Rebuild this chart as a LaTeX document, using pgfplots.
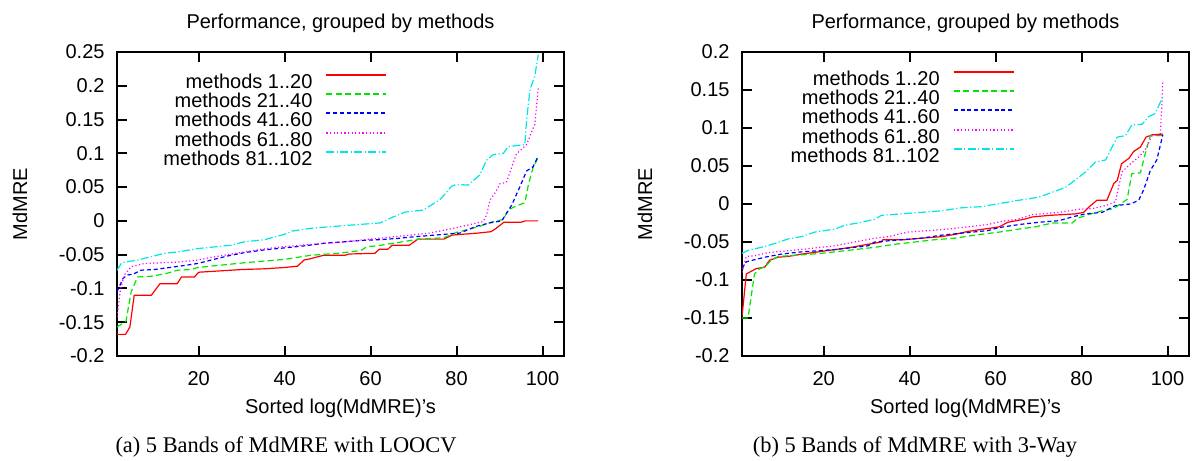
\documentclass[border=0pt]{standalone}
\usepackage{fontspec}
\setmainfont{Liberation Sans}
\newfontfamily\capfont{Liberation Serif}
\usepackage{pgfplots}
\pgfplotsset{compat=1.18}

\definecolor{gpred}{RGB}{255,0,0}
\definecolor{gpgreen}{RGB}{0,230,0}
\definecolor{gpblue}{RGB}{0,0,255}
\definecolor{gpmagenta}{RGB}{255,0,255}
\definecolor{gpcyan}{RGB}{0,230,230}

\tikzset{
  s1/.style={draw=gpred, solid, line width=0.6pt},
  s2/.style={draw=gpgreen, line width=0.6pt, dash pattern=on 3pt off 1.7pt},
  s3/.style={draw=gpblue, line width=0.6pt, dash pattern=on 2pt off 1.4pt},
  s4/.style={draw=gpmagenta, line width=0.6pt, dash pattern=on 0.6pt off 1.2pt},
  s5/.style={draw=gpcyan, line width=0.6pt, dash pattern=on 4pt off 1.2pt on 0.6pt off 1.2pt},
}

\pgfplotsset{
  legimg/.style={legend image code/.code={\draw[#1, line width=1pt] (0pt,3.2pt) -- (30pt,3.2pt);}},
  mdstyle/.style={
    scale only axis, width=223.5pt, height=152pt,
    xmin=1, xmax=105, ymin=-0.2,
    xtick={20,40,60,80,100},
    tick align=inside, major tick length=5pt,
    axis line style={line width=1pt},
    every tick/.style={black, line width=1pt},
    font=\fontsize{10}{12}\selectfont,
    /pgf/number format/assume math mode=true,
    xticklabel style={yshift=-4pt},
    yticklabel style={xshift=-2.7pt},
    title={Performance, grouped by methods},
    title style={at={(0.5,1)}, anchor=center, yshift=8.5pt},
    xlabel={Sorted log(MdMRE)'s},
    xlabel style={at={(axis description cs:0.5,-0.171)}, anchor=center},
    ylabel={MdMRE},
    ylabel style={at={(axis description cs:-0.217,0.5)}, anchor=center},
    legend plot pos=right,
    legend cell align=right,
    legend style={draw=none, fill=none, inner sep=0pt, row sep=2.5pt,
      column sep=6.5pt, anchor=north east,
      nodes={inner sep=0pt, text height=7pt, text depth=0pt}},
  },
}

\begin{document}
\begin{tikzpicture}
\useasboundingbox (0,0) rectangle (598.5pt,230pt);

% (a) LOOCV
\begin{axis}[mdstyle, at={(58.5pt,52pt)}, anchor=south west,
  ymax=0.25,
  ytick={-0.2,-0.15,-0.1,-0.05,0,0.05,0.1,0.15,0.2,0.25},
  yticklabels={-0.2,-0.15,-0.1,-0.05,0,0.05,0.1,0.15,0.2,0.25},
  legend style={at={(axis description cs:0.606,0.93)}}]
\addplot[s1, legimg=s1] coordinates {(1,-0.168) (3,-0.168) (4,-0.157) (5,-0.110) (9,-0.110) (11,-0.093) (15,-0.093) (16,-0.083) (19,-0.083) (20,-0.076) (25,-0.074) (30,-0.072) (35,-0.071) (40,-0.069) (43,-0.067) (44.5,-0.058) (46,-0.056) (49,-0.051) (54,-0.051) (55,-0.049) (61,-0.048) (62,-0.042) (64,-0.042) (65,-0.036) (69,-0.036) (71,-0.027) (77,-0.027) (79,-0.021) (85,-0.018) (88,-0.016) (89,-0.012) (91,-0.002) (95,-0.002) (96,0) (99,0)};
\addlegendentry{methods 1..20}
\addplot[s2, legimg=s2] coordinates {(1,-0.157) (2.75,-0.150) (3.1,-0.148) (4.3,-0.105) (5.8,-0.083) (8.9,-0.082) (12.4,-0.078) (15.1,-0.073) (18.2,-0.072) (19.8,-0.069) (30.6,-0.062) (39.9,-0.057) (46,-0.051) (52.3,-0.048) (57.7,-0.044) (59.2,-0.038) (61.5,-0.037) (69.3,-0.029) (71,-0.027) (77,-0.025) (80,-0.017) (85.4,-0.008) (88.5,-0.001) (90.9,0.002) (92,0.016) (93.2,0.020) (95.9,0.027) (96.7,0.053) (97.8,0.079) (99,0.094)};
\addlegendentry{methods 21..40}
\addplot[s3, legimg=s3] coordinates {(1,-0.105) (2.4,-0.085) (3.5,-0.080) (4.7,-0.079) (6.6,-0.073) (9.7,-0.072) (16.7,-0.066) (19.8,-0.063) (22.9,-0.058) (26.7,-0.052) (30.6,-0.047) (35.2,-0.043) (39.9,-0.040) (44.5,-0.037) (49.2,-0.033) (53.8,-0.031) (57.7,-0.029) (61.5,-0.028) (66.2,-0.026) (69.3,-0.024) (75,-0.021) (80.8,-0.018) (84.6,-0.008) (87.7,-0.003) (90.5,0) (91.6,0.011) (92.8,0.023) (94.7,0.050) (96.3,0.074) (97.8,0.080) (99,0.096)};
\addlegendentry{methods 41..60}
\addplot[s4, legimg=s4] coordinates {(1,-0.142) (1.8,-0.102) (2.7,-0.080) (4.3,-0.068) (7.4,-0.063) (15.1,-0.061) (19.8,-0.058) (22.9,-0.054) (30.6,-0.046) (34.5,-0.042) (39.9,-0.038) (46,-0.035) (53.8,-0.031) (61.5,-0.026) (69.3,-0.021) (73.8,-0.018) (80,-0.010) (86.2,-0.001) (87,0.009) (87.8,0.031) (89,0.042) (90.1,0.055) (91.6,0.057) (92.8,0.079) (93.9,0.099) (95.1,0.106) (96.3,0.113) (97.8,0.137) (98.2,0.142) (99,0.196)};
\addlegendentry{methods 61..80}
\addplot[s5, legimg=s5] coordinates {(1,-0.073) (2,-0.063) (2.75,-0.061) (5.8,-0.058) (8.9,-0.053) (12,-0.048) (15.1,-0.046) (19.8,-0.041) (27.5,-0.036) (30.6,-0.031) (35.2,-0.028) (39.9,-0.020) (41.8,-0.015) (46,-0.011) (53.8,-0.007) (62.2,-0.003) (65.3,0.006) (68,0.013) (72.2,0.016) (76.1,0.031) (78.8,0.051) (80,0.054) (82.7,0.053) (85.4,0.068) (87,0.090) (88.5,0.098) (90.9,0.100) (92,0.110) (95.9,0.113) (96.3,0.150) (97.1,0.195) (98.2,0.214) (99,0.246)};
\addlegendentry{methods 81..102}
\end{axis}

% (b) 3-Way
\begin{axis}[mdstyle, at={(371pt,52pt)}, anchor=south west,
  ymax=0.2,
  ytick={-0.2,-0.15,-0.1,-0.05,0,0.05,0.1,0.15,0.2},
  yticklabels={-0.2,-0.15,-0.1,-0.05,0,0.05,0.1,0.15,0.2},
  legend style={at={(axis description cs:0.611,0.94)}}]
\addplot[s1, legimg=s1] coordinates {(1,-0.148) (2,-0.092) (4.3,-0.085) (6.3,-0.083) (7.4,-0.074) (9.4,-0.070) (11.7,-0.069) (14.8,-0.066) (18.7,-0.063) (22.6,-0.060) (26.4,-0.057) (30.3,-0.053) (33.4,-0.050) (33.8,-0.047) (38.8,-0.047) (42.7,-0.045) (47.4,-0.043) (50.5,-0.040) (53.6,-0.036) (59.8,-0.031) (60.8,-0.030) (62.9,-0.024) (66.7,-0.020) (68.6,-0.017) (72.4,-0.015) (78.6,-0.013) (80.5,-0.011) (81.7,-0.004) (83.6,0.005) (85.9,0.005) (87.5,0.027) (88.3,0.031) (89.3,0.053) (91,0.060) (92.1,0.069) (93.7,0.075) (95,0.088) (96.4,0.091) (98.9,0.092)};
\addlegendentry{methods 1..20}
\addplot[s2, legimg=s2] coordinates {(1,-0.150) (2.4,-0.150) (3.9,-0.092) (5.1,-0.085) (6.3,-0.083) (7.8,-0.074) (9.4,-0.069) (14.8,-0.067) (19.4,-0.065) (22.6,-0.063) (27.2,-0.060) (31.9,-0.057) (36.5,-0.053) (41.2,-0.050) (45.8,-0.047) (50.5,-0.045) (55.1,-0.041) (60.8,-0.037) (65.5,-0.033) (69.3,-0.030) (73.2,-0.025) (77.8,-0.025) (79,-0.019) (82.1,-0.013) (84.8,-0.009) (87.5,-0.006) (89,0) (90.6,0.006) (91.7,0.040) (93.7,0.041) (94.8,0.066) (96,0.090) (98.7,0.090)};
\addlegendentry{methods 21..40}
\addplot[s3, legimg=s3] coordinates {(1,-0.085) (2,-0.076) (6.3,-0.070) (10.1,-0.066) (14.8,-0.063) (22.6,-0.060) (30.3,-0.055) (31.9,-0.050) (38,-0.047) (42.7,-0.045) (47.4,-0.041) (58.2,-0.035) (60.8,-0.031) (65.5,-0.027) (70.1,-0.024) (74.7,-0.022) (77.8,-0.017) (80.9,-0.013) (84.8,-0.011) (87.9,-0.002) (91.4,0) (93.3,0.005) (94.4,0.018) (96,0.044) (97.5,0.058) (98.9,0.091)};
\addlegendentry{methods 41..60}
\addplot[s4, legimg=s4] coordinates {(1,-0.090) (2,-0.069) (4,-0.068) (7,-0.064) (10.9,-0.062) (19.4,-0.057) (22.6,-0.055) (27.2,-0.050) (31.9,-0.045) (35,-0.043) (39.6,-0.037) (44.3,-0.035) (48.9,-0.033) (53.6,-0.030) (58.2,-0.027) (61.3,-0.023) (65.2,-0.020) (68.6,-0.014) (74.7,-0.011) (79.4,-0.007) (82.5,-0.006) (85.6,-0.002) (87.9,0.003) (88.6,0.022) (89.4,0.042) (91.4,0.053) (93.3,0.062) (94.8,0.071) (96.4,0.090) (98.3,0.090) (98.7,0.132) (98.9,0.163)};
\addlegendentry{methods 61..80}
\addplot[s5, legimg=s5] coordinates {(1,-0.065) (2.4,-0.061) (5.5,-0.057) (8.6,-0.052) (11.7,-0.046) (14.8,-0.043) (17.9,-0.037) (22.6,-0.033) (24.9,-0.028) (28.8,-0.024) (31.9,-0.020) (33.4,-0.015) (38,-0.013) (42.7,-0.011) (47.4,-0.009) (52,-0.005) (56.7,-0.0035) (61.3,0.001) (65.5,0.005) (70.1,0.009) (76.3,0.022) (80.9,0.042) (83.2,0.055) (85.6,0.058) (87.1,0.075) (88.3,0.088) (90.2,0.090) (91.7,0.104) (94.1,0.105) (95.6,0.115) (97.1,0.119) (98.9,0.141)};
\addlegendentry{methods 81..102}
\end{axis}

\node[font=\capfont\fontsize{11.2}{13}\selectfont] at (143pt,6.5pt) {(a) 5 Bands of MdMRE with LOOCV};
\node[font=\capfont\fontsize{11.2}{13}\selectfont] at (457.5pt,6.5pt) {(b) 5 Bands of MdMRE with 3-Way};
\end{tikzpicture}
\end{document}
